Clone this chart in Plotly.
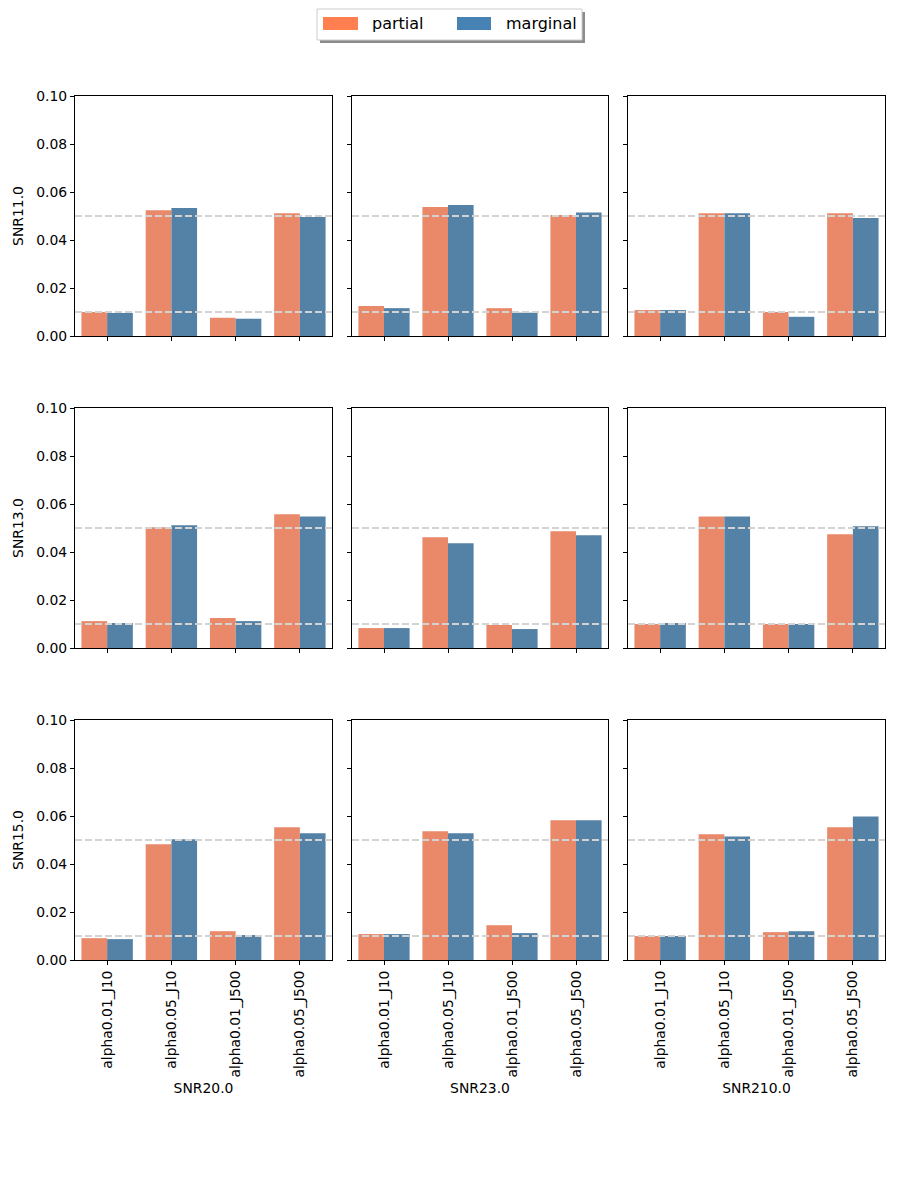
import plotly.graph_objects as go
from plotly.subplots import make_subplots

categories = ["alpha0.01_J10", "alpha0.05_J10", "alpha0.01_J500", "alpha0.05_J500"]
row_labels = ["SNR11.0", "SNR13.0", "SNR15.0"]
col_labels = ["SNR20.0", "SNR23.0", "SNR210.0"]
series_names = ["partial", "marginal"]
thresholds = [0.01, 0.05]
y_ticks = [0.0, 0.02, 0.04, 0.06, 0.08, 0.10]

# values per row: one list per column
partial_row1 = [[0.0100, 0.0524, 0.0076, 0.0511],
                [0.0125, 0.0537, 0.0116, 0.0504],
                [0.0108, 0.0511, 0.0100, 0.0511]]
marginal_row1 = [[0.0096, 0.0533, 0.0072, 0.0496],
                 [0.0116, 0.0546, 0.0097, 0.0515],
                 [0.0108, 0.0511, 0.0080, 0.0492]]
partial_row2 = [[0.0112, 0.0503, 0.0125, 0.0557],
                [0.0083, 0.0461, 0.0096, 0.0486],
                [0.0100, 0.0548, 0.0100, 0.0474]]
marginal_row2 = [[0.0104, 0.0511, 0.0112, 0.0548],
                 [0.0083, 0.0436, 0.0079, 0.0470],
                 [0.0104, 0.0548, 0.0100, 0.0507]]
partial_row3 = [[0.0091, 0.0482, 0.0120, 0.0553],
                [0.0108, 0.0536, 0.0145, 0.0582],
                [0.0100, 0.0524, 0.0116, 0.0553]]
marginal_row3 = [[0.0087, 0.0503, 0.0104, 0.0528],
                 [0.0108, 0.0528, 0.0112, 0.0582],
                 [0.0100, 0.0515, 0.0120, 0.0598]]

partial_rows = [partial_row1, partial_row2, partial_row3]
marginal_rows = [marginal_row1, marginal_row2, marginal_row3]

bar_colors = ["#E9896A", "#5481A6"]
legend_colors = ["#FF7F50", "#4682B4"]
FONT = "DejaVu Sans"
W, H = 900, 1200

fig = make_subplots(rows=3, cols=3)

col_px = [(75, 332), (352, 608), (628, 885)]
row_px = [(96, 336), (408, 648), (720, 960)]

for r in range(3):
    for c in range(3):
        vals = [partial_rows[r][c], marginal_rows[r][c]]
        for s in range(2):
            fig.add_trace(go.Bar(
                x=categories, y=vals[s], name=series_names[s],
                marker=dict(color=bar_colors[s], line=dict(width=0)),
                showlegend=False, offsetgroup=str(s)),
                row=r + 1, col=c + 1)
        n = r * 3 + c + 1
        sx = "" if n == 1 else str(n)
        xa = "xaxis" + sx
        ya = "yaxis" + sx
        x0, x1 = col_px[c]
        y0, y1 = row_px[r]
        fig.layout[xa].update(
            domain=[x0 / W, x1 / W], range=[-0.5, 3.5], type="category",
            categoryorder="array", categoryarray=categories,
            showline=True, linecolor="black", linewidth=1, mirror=True,
            ticks="outside", ticklen=4, tickwidth=1, tickcolor="black",
            showticklabels=(r == 2), tickangle=-90, showgrid=False, zeroline=False,
            tickfont=dict(family=FONT, size=13.9, color="black"), automargin=False,
            title=dict(text=col_labels[c] if r == 2 else "", standoff=6,
                       font=dict(family=FONT, size=13.9, color="black")))
        fig.layout[ya].update(
            domain=[1 - y1 / H, 1 - y0 / H], range=[0, 0.1],
            tickvals=y_ticks, tickformat=".2f",
            showline=True, linecolor="black", linewidth=1, mirror=True,
            ticks="outside", ticklen=4, tickwidth=1, tickcolor="black",
            showticklabels=(c == 0), showgrid=False, zeroline=False,
            tickfont=dict(family=FONT, size=13.9, color="black"), automargin=False,
            title=dict(text=row_labels[r] if c == 0 else "", standoff=9,
                       font=dict(family=FONT, size=13.9, color="black")))
        for t in thresholds:
            fig.add_shape(type="line", xref="x" + sx + " domain", x0=0, x1=1,
                          yref="y" + sx, y0=t, y1=t, layer="above",
                          line=dict(color="#D3D3D3", width=2, dash="7px,3px"))

# manual legend
def px(x, y):
    return x / W, 1 - y / H

sx0, sy0 = px(320, 12); sx1, sy1 = px(585, 43)
fig.add_shape(type="rect", xref="paper", yref="paper", x0=sx0, y0=sy1, x1=sx1, y1=sy0,
              fillcolor="rgba(0,0,0,0.45)", line=dict(width=0), layer="above")
bx0, by0 = px(317, 9); bx1, by1 = px(582, 40)
fig.add_shape(type="rect", xref="paper", yref="paper", x0=bx0, y0=by1, x1=bx1, y1=by0,
              fillcolor="white", line=dict(color="#CCCCCC", width=1), layer="above")
patch_px = [(323, 358), (457, 491)]
text_px = [370, 504]
for s in range(2):
    a, b = px(patch_px[s][0], 17)
    c_, d = px(patch_px[s][1], 30)
    fig.add_shape(type="rect", xref="paper", yref="paper", x0=a, y0=d, x1=c_, y1=b,
                  fillcolor=legend_colors[s], line=dict(width=0), layer="above")
    tx, ty = px(text_px[s], 23.5)
    fig.add_annotation(x=tx, y=ty, xref="paper", yref="paper", text=series_names[s],
                       showarrow=False, xanchor="left", yanchor="middle",
                       font=dict(family=FONT, size=16, color="black"))

fig.update_layout(
    width=W, height=H, margin=dict(l=0, r=0, t=0, b=0),
    paper_bgcolor="white", plot_bgcolor="white",
    barmode="group", bargap=0.2, bargroupgap=0,
    font=dict(family=FONT, size=13.9, color="black"),
    showlegend=False)

fig.write_html("out.html", config={"displayModeBar": False},
               post_script="document.body.style.margin='0';document.body.style.padding='0';")
